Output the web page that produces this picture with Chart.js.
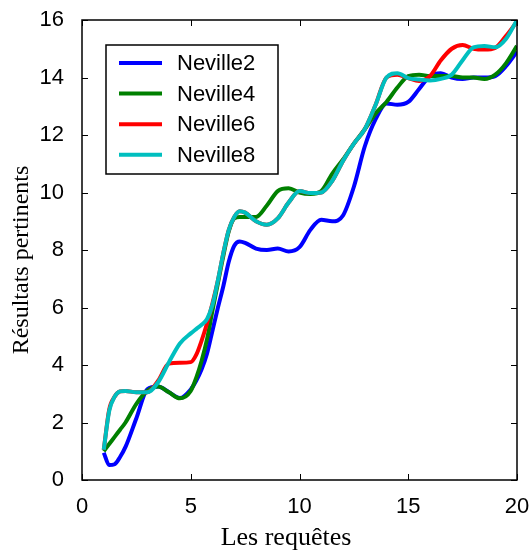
<!DOCTYPE html>
<html>
<head>
<meta charset="utf-8">
<script src="https://cdn.jsdelivr.net/npm/chart.js@4"></script>
<style>
    html, body { margin: 0; padding: 0; background: #fff; }
    #wrap { width: 530px; height: 556px; }
</style>
</head>
<body>
<div id="wrap"><canvas id="chart" width="530" height="556"></canvas></div>
<script>
const xs = [1, 1.25, 1.5, 1.75, 2, 2.5, 3, 3.5, 4, 4.5, 5, 5.25, 5.5, 5.75, 6, 6.25, 6.5, 6.75, 7, 7.25, 7.5, 8, 8.5, 9, 9.5, 10, 10.5, 11, 11.5, 12, 12.5, 13, 13.5, 14, 14.5, 15, 15.5, 16, 16.5, 17, 17.5, 18, 18.5, 19, 19.5, 20];

const neville2 = [0.95, 0.52, 0.55, 0.8, 1.15, 2.15, 3.15, 3.25, 3.05, 2.85, 3.15, 3.45, 3.85, 4.4, 5.2, 6.0, 6.75, 7.6, 8.15, 8.3, 8.25, 8.05, 8.0, 8.05, 7.95, 8.1, 8.7, 9.05, 9.0, 9.2, 10.2, 11.6, 12.55, 13.1, 13.05, 13.15, 13.6, 14.05, 14.15, 14.0, 13.95, 14.0, 14.0, 14.05, 14.4, 14.9];

const neville4 = [1.0, 1.25, 1.5, 1.75, 2.0, 2.65, 3.1, 3.25, 3.05, 2.84, 3.1, 3.55, 4.15, 4.9, 5.9, 6.85, 7.8, 8.65, 9.1, 9.15, 9.15, 9.15, 9.55, 10.05, 10.15, 10.0, 9.95, 10.05, 10.65, 11.15, 11.7, 12.2, 12.75, 13.15, 13.65, 14.05, 14.1, 14.05, 14.05, 14.05, 14.0, 14.0, 13.95, 14.1, 14.5, 15.1];

const neville6 = [1.05, 2.45, 2.9, 3.08, 3.1, 3.05, 3.05, 3.45, 4.05, 4.08, 4.1, 4.35, 4.85, 5.45, 6.15, 6.95, 7.9, 8.7, 9.15, 9.35, 9.3, 9.0, 8.88, 9.1, 9.65, 10.05, 9.98, 10.0, 10.4, 11.1, 11.7, 12.2, 13.05, 14.0, 14.1, 13.98, 13.88, 14.05, 14.6, 15.0, 15.13, 15.0, 14.97, 15.03, 15.45, 15.95];

const neville8 = [1.05, 2.4, 2.9, 3.08, 3.1, 3.05, 3.05, 3.4, 4.1, 4.75, 5.1, 5.25, 5.4, 5.6, 6.1, 6.95, 7.9, 8.7, 9.15, 9.35, 9.3, 9.0, 8.88, 9.1, 9.65, 10.05, 9.98, 10.0, 10.4, 11.1, 11.7, 12.2, 13.05, 14.0, 14.15, 13.98, 13.93, 13.9, 13.95, 14.1, 14.6, 15.05, 15.1, 15.05, 15.35, 16.0];

const seriesNames = ["Neville2", "Neville4", "Neville6", "Neville8"];
const seriesColors = ["#0000ff", "#008000", "#ff0000", "#00bfbf"];
const xTicks = [0, 5, 10, 15, 20];
const yTicks = [0, 2, 4, 6, 8, 10, 12, 14, 16];

const allSeries = [neville2, neville4, neville6, neville8];

function toPoints(values) {
    return xs.map((x, i) => ({ x: x, y: values[i] }));
}

const datasets = allSeries.map((values, i) => ({
    label: seriesNames[i],
    data: toPoints(values),
    borderColor: seriesColors[i],
    backgroundColor: seriesColors[i],
    borderWidth: 4,
    pointRadius: 0,
    cubicInterpolationMode: "monotone",
    fill: false,
    order: 4 - i
}));

// frame with inward ticks, boxed legend and axis titles (MATLAB look)
const matlabLook = {
    id: "matlabLook",
    afterDraw(chart) {
        const ctx = chart.ctx;
        const area = chart.chartArea;
        const xs = chart.scales.x;
        const ys = chart.scales.y;

        ctx.save();
        ctx.strokeStyle = "#000";
        ctx.lineWidth = 1.5;
        ctx.strokeRect(area.left, area.top, area.right - area.left, area.bottom - area.top);

        ctx.lineWidth = 1;
        ctx.beginPath();
        xTicks.forEach(v => {
            const px = Math.round(xs.getPixelForValue(v)) + 0.5;
            ctx.moveTo(px, area.bottom);
            ctx.lineTo(px, area.bottom - 6);
            ctx.moveTo(px, area.top);
            ctx.lineTo(px, area.top + 6);
        });
        yTicks.forEach(v => {
            const py = Math.round(ys.getPixelForValue(v)) + 0.5;
            ctx.moveTo(area.left, py);
            ctx.lineTo(area.left + 6, py);
            ctx.moveTo(area.right, py);
            ctx.lineTo(area.right - 6, py);
        });
        ctx.stroke();

        // legend box
        ctx.fillStyle = "#fff";
        ctx.fillRect(106, 45, 172, 129);
        ctx.lineWidth = 1.5;
        ctx.strokeRect(106, 45, 172, 129);
        ctx.font = "22px 'Liberation Sans', Arial, sans-serif";
        ctx.textBaseline = "middle";
        ctx.textAlign = "left";
        chart.data.datasets.forEach((ds, i) => {
            const rowY = 63 + i * 30.6;
            ctx.strokeStyle = ds.borderColor;
            ctx.lineWidth = 4;
            ctx.beginPath();
            ctx.moveTo(119, rowY);
            ctx.lineTo(162, rowY);
            ctx.stroke();
            ctx.fillStyle = "#000";
            ctx.fillText(ds.label, 177, rowY + 1);
        });

        // axis titles
        ctx.fillStyle = "#000";
        ctx.textAlign = "center";
        ctx.font = "26px 'Liberation Serif', 'Times New Roman', serif";
        ctx.fillText("Les requêtes", 286, 538);

        ctx.translate(22, 260);
        ctx.rotate(-Math.PI / 2);
        ctx.font = "24px 'Liberation Serif', 'Times New Roman', serif";
        ctx.fillText("Résultats pertinents", 0, 0);
        ctx.restore();
    }
};

new Chart(document.getElementById("chart"), {
    type: "line",
    data: { datasets: datasets },
    options: {
        responsive: false,
        animation: false,
        layout: { padding: { left: 0, top: 20, right: 13, bottom: 0 } },
        plugins: {
            legend: { display: false },
            tooltip: { enabled: false }
        },
        scales: {
            x: {
                type: "linear",
                min: 0,
                max: 20,
                afterFit: scale => {
                    scale.height = 76;
                    scale.paddingLeft = 0;
                    scale.paddingRight = 0;
                },
                afterBuildTicks: scale => { scale.ticks = xTicks.map(v => ({ value: v })); },
                grid: { display: false },
                border: { display: false },
                ticks: {
                    color: "#000",
                    padding: 6,
                    maxRotation: 0,
                    font: { family: "'Liberation Sans', Arial, sans-serif", size: 22 }
                }
            },
            y: {
                type: "linear",
                min: 0,
                max: 16,
                afterFit: scale => {
                    scale.width = 82;
                    scale.paddingTop = 0;
                    scale.paddingBottom = 0;
                },
                afterBuildTicks: scale => { scale.ticks = yTicks.map(v => ({ value: v })); },
                grid: { display: false },
                border: { display: false },
                ticks: {
                    color: "#000",
                    padding: 10,
                    font: { family: "'Liberation Sans', Arial, sans-serif", size: 22 }
                }
            }
        }
    },
    plugins: [matlabLook]
});
</script>
</body>
</html>
